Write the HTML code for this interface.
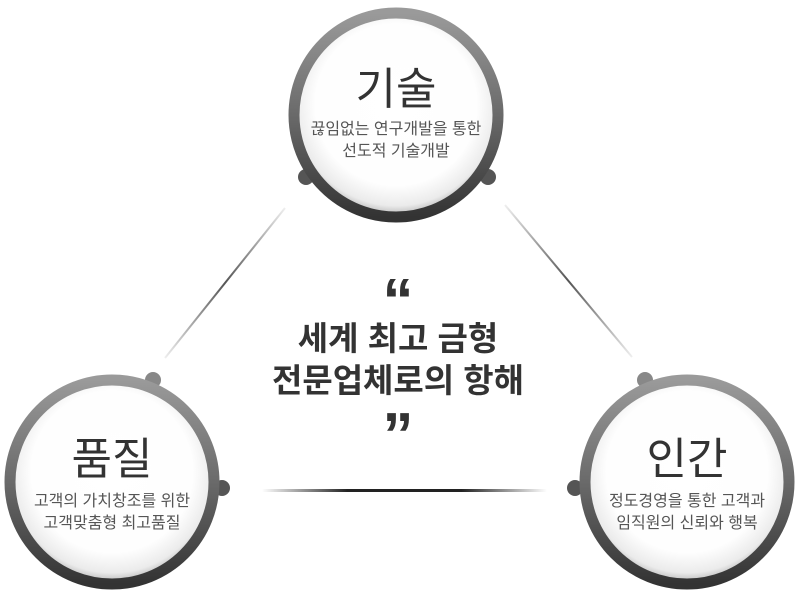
<!DOCTYPE html>
<html><head><meta charset="utf-8"><style>
body{margin:0;width:799px;height:595px;background:#fff;overflow:hidden;font-family:"Liberation Sans","Noto Sans CJK KR",sans-serif}
</style></head><body>
<svg width="799" height="595" xmlns="http://www.w3.org/2000/svg" style="position:absolute;left:0;top:0">
<defs>
<linearGradient id="ring" x1="0" y1="0" x2="0" y2="1">
<stop offset="0" stop-color="#9a9a9a"/><stop offset="0.5" stop-color="#6a6a6a"/><stop offset="1" stop-color="#333"/>
</linearGradient>
<radialGradient id="face" cx="0.5" cy="0.45" r="0.55">
<stop offset="0" stop-color="#fff"/><stop offset="0.72" stop-color="#fefefe"/><stop offset="0.9" stop-color="#ebebeb"/><stop offset="1" stop-color="#b0b0b0"/>
</radialGradient>
<linearGradient id="hl" x1="0" x2="1"><stop offset="0" stop-color="#fff"/><stop offset="0.3" stop-color="#222"/><stop offset="0.7" stop-color="#222"/><stop offset="1" stop-color="#fff"/></linearGradient>
<linearGradient id="dl1" x1="0" y1="0" x2="1" y2="1"><stop offset="0" stop-color="#eee"/><stop offset="0.5" stop-color="#555"/><stop offset="1" stop-color="#eee"/></linearGradient>
<linearGradient id="dl2" x1="1" y1="0" x2="0" y2="1"><stop offset="0" stop-color="#eee"/><stop offset="0.5" stop-color="#555"/><stop offset="1" stop-color="#eee"/></linearGradient>
</defs>
<line x1="285" y1="208" x2="165" y2="358" stroke="url(#dl2)" stroke-width="2"/>
<line x1="505" y1="205" x2="632" y2="357" stroke="url(#dl1)" stroke-width="2"/>
<rect x="262" y="489" width="285" height="3" fill="url(#hl)"/>
<g fill="#555">
<circle cx="306" cy="177" r="8"/><circle cx="488" cy="177" r="8"/>
<circle cx="153" cy="380" r="8" fill="#888"/><circle cx="222" cy="488" r="8"/>
<circle cx="645" cy="380" r="8" fill="#888"/><circle cx="575" cy="488" r="8"/>
</g>
<g>
<circle cx="396" cy="115" r="102" fill="url(#face)" stroke="url(#ring)" stroke-width="11"/>
<circle cx="112" cy="482" r="102" fill="url(#face)" stroke="url(#ring)" stroke-width="11"/>
<circle cx="687" cy="482" r="102" fill="url(#face)" stroke="url(#ring)" stroke-width="11"/>
</g>
<g text-anchor="middle" font-family="Liberation Sans, Noto Sans CJK KR, sans-serif">
<text x="396" y="104" font-size="44" fill="#333">기술</text>
<text x="396" y="134" font-size="16" fill="#555">끊임없는 연구개발을 통한</text>
<text x="396" y="156" font-size="16" fill="#555">선도적 기술개발</text>
<text x="112" y="474" font-size="44" fill="#333">품질</text>
<text x="112" y="506" font-size="16" fill="#555">고객의 가치창조를 위한</text>
<text x="112" y="528" font-size="16" fill="#555">고객맞춤형 최고품질</text>
<text x="687" y="474" font-size="44" fill="#333">인간</text>
<text x="687" y="506" font-size="16" fill="#555">정도경영을 통한 고객과</text>
<text x="687" y="528" font-size="16" fill="#555">임직원의 신뢰와 행복</text>
<text x="398" y="322" font-size="62" font-weight="bold" fill="#333">“</text>
<text x="398" y="350" font-size="33" font-weight="bold" fill="#333">세계 최고 금형</text>
<text x="398" y="392" font-size="33" font-weight="bold" fill="#333">전문업체로의 항해</text>
<text x="398" y="456" font-size="62" font-weight="bold" fill="#333">”</text>
</g>
</svg>
</body></html>
